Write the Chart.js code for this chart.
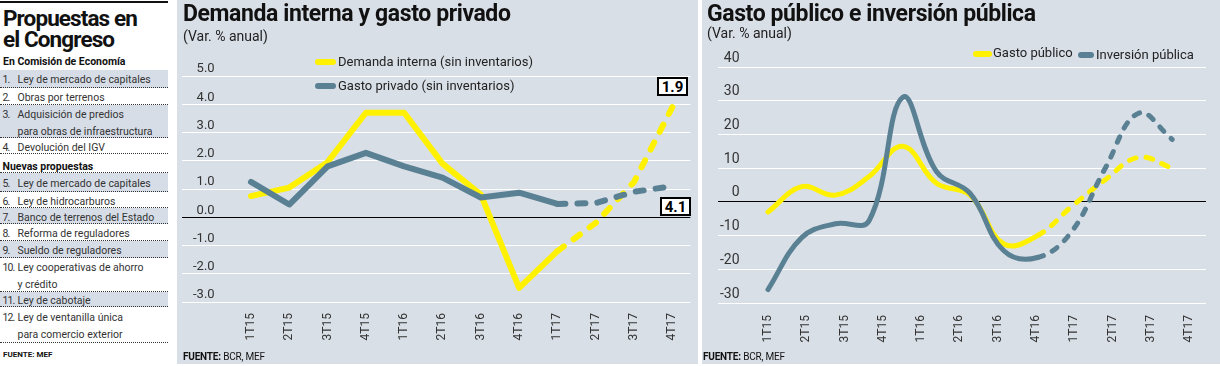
<!DOCTYPE html>
<html><head><meta charset="utf-8">
<script src="https://cdn.jsdelivr.net/npm/chart.js@4.4.1/dist/chart.umd.min.js"></script>
<style>
html,body{margin:0;padding:0;background:#fff;width:1220px;height:366px;overflow:hidden;font-family:Roboto,"Open Sans",sans-serif;color:#222;}
.panel{position:absolute;top:0;height:364px;background:#d9dfe7;}
#mid{left:177px;width:521px;}
#rgt{left:702px;width:518px;}
canvas{position:absolute;left:0;top:0;}
.ttl{position:absolute;font-weight:700;font-size:23px;line-height:26px;letter-spacing:-0.4px;color:#111;white-space:nowrap;}
.sub{position:absolute;font-size:14px;line-height:18px;color:#222;white-space:nowrap;}
.leg{position:absolute;font-size:13px;line-height:16px;color:#222;white-space:nowrap;}
.sw{position:absolute;height:6px;border-radius:3px;}
.src{position:absolute;font-size:10px;line-height:12px;letter-spacing:-0.2px;color:#111;white-space:nowrap;}
.box{position:absolute;background:#fff;border:2px solid #000;font-weight:700;font-size:15px;line-height:15px;text-align:center;color:#000;box-sizing:border-box;padding-top:1px;}
#left{position:absolute;left:0;top:0;width:168px;height:366px;}
.topline{position:absolute;left:0;top:1px;width:168px;height:2px;background:#111;}
.ltitle{position:absolute;left:3px;top:8px;font-weight:700;font-size:22.5px;line-height:21px;letter-spacing:-0.9px;color:#111;}
.hdr{position:absolute;left:3px;font-weight:700;font-size:10.5px;line-height:14px;color:#111;white-space:nowrap;}
.row{position:absolute;left:0;width:168px;border-bottom:1px dotted #333;box-sizing:border-box;font-size:10.5px;line-height:16.5px;color:#333;white-space:nowrap;}
.row.sh{background:#d6dde7;}
.row .n{position:absolute;left:2.5px;top:2px;letter-spacing:-0.9px;}
.row .t{position:absolute;left:17.5px;top:2px;}
</style></head>
<body>
<div id="left">
  <div class="topline"></div>
  <div class="ltitle">Propuestas en<br>el Congreso</div>
  <div class="hdr" style="top:55px">En Comisión de Economía</div>
  <div class="row sh" style="top:70px;height:18px"><span class="n">1.</span><span class="t">Ley de mercado de capitales</span></div>
  <div class="row" style="top:88px;height:17px"><span class="n">2.</span><span class="t">Obras por terrenos</span></div>
  <div class="row sh" style="top:105px;height:33px"><span class="n">3.</span><span class="t">Adquisición de predios<br>para obras de infraestructura</span></div>
  <div class="row" style="top:138px;height:16px"><span class="n">4.</span><span class="t">Devolución del IGV</span></div>
  <div class="row" style="top:154px;height:19px;"><span class="n" style="top:5px;font-weight:700;color:#111;letter-spacing:0">Nuevas propuestas</span></div>
  <div class="row sh" style="top:173px;height:19px"><span class="n" style="top:3px">5.</span><span class="t" style="top:3px">Ley de mercado de capitales</span></div>
  <div class="row" style="top:192px;height:16px"><span class="n">6.</span><span class="t">Ley de hidrocarburos</span></div>
  <div class="row sh" style="top:208px;height:16px"><span class="n">7.</span><span class="t">Banco de terrenos del Estado</span></div>
  <div class="row" style="top:224px;height:17px"><span class="n">8.</span><span class="t">Reforma de reguladores</span></div>
  <div class="row sh" style="top:241px;height:17px"><span class="n">9.</span><span class="t">Sueldo de reguladores</span></div>
  <div class="row" style="top:258px;height:34px"><span class="n">10.</span><span class="t">Ley cooperativas de ahorro<br>y crédito</span></div>
  <div class="row sh" style="top:292px;height:15px"><span class="n" style="top:1px">11.</span><span class="t" style="top:1px">Ley de cabotaje</span></div>
  <div class="row" style="top:307px;height:36px"><span class="n" style="top:3px">12.</span><span class="t" style="top:3px">Ley de ventanilla única<br>para comercio exterior</span></div>
  <div class="hdr" style="top:348px;font-size:8px;">FUENTE: MEF</div>
</div>

<div id="mid" class="panel">
  <canvas id="c1" width="521" height="364"></canvas>
  <div class="ttl" style="left:6px;top:1px">Demanda interna y gasto privado</div>
  <div class="sub" style="left:6px;top:27px">(Var. % anual)</div>
  <div class="sw" style="left:138px;top:59px;width:21px;background:#fff100"></div>
  <div class="leg" style="left:161px;top:54px">Demanda interna (sin inventarios)</div>
  <div class="sw" style="left:138px;top:83px;width:21px;background:#5a8094"></div>
  <div class="leg" style="left:161px;top:78px">Gasto privado (sin inventarios)</div>
  <div class="box" style="left:480px;top:77px;width:31px;height:19px">1.9</div>
  <div class="box" style="left:483px;top:197px;width:31px;height:19px">4.1</div>
  <div class="src" style="left:6px;top:351px"><b>FUENTE:</b> BCR, MEF</div>
</div>

<div id="rgt" class="panel">
  <canvas id="c2" width="518" height="364"></canvas>
  <div class="ttl" style="left:5px;top:1px">Gasto público e inversión pública</div>
  <div class="sub" style="left:5px;top:24px">(Var. % anual)</div>
  <div class="sw" style="left:271px;top:51px;width:19px;background:#fff100"></div>
  <div class="leg" style="left:291px;top:45px">Gasto público</div>
  <div class="sw" style="left:376px;top:52px;width:16px;background:#5a8094"></div>
  <div class="leg" style="left:394px;top:47px">Inversión pública</div>
  <div class="src" style="left:1px;top:351px"><b>FUENTE:</b> BCR, MEF</div>
</div>

<script>
// ---- data ----
const trimestres = ["1T15","2T15","3T15","4T15","1T16","2T16","3T16","4T16","1T17","2T17","3T17","4T17"];
const demandaInterna = [0.75, 1.05, 1.95, 3.7, 3.7, 1.9, 0.8, -2.5, -1.2, -0.2, 1.25, 3.9];
const gastoPrivado   = [1.25, 0.45, 1.8, 2.28, 1.8, 1.4, 0.7, 0.87, 0.47, 0.5, 0.9, 1.1];
const gastoPublico     = [-3, 4.5, 2, 7.5, 16.5, 5.5, 2, -12.5, -10, -1.5, 6.5, 13.2, 10];
const inversionPublica = [-26, -10.6, -6.5, -5.6, 31, 9, 2.5, -14.5, -16.5, -9, 9.8, 26.3, 18.5];
const ticksMid = [-3, -2, -1, 0, 1, 2, 3, 4, 5];
const ticksRgt = [-30, -20, -10, 0, 10, 20, 30, 40];

const YEL = '#fff100', GRY = '#5a8094', TXT = '#333';
const FONT = 'Roboto, "Open Sans", sans-serif';
const pts = arr => arr.map((v, i) => ({x: i, y: v}));
const dashFrom = (k, d) => ({borderDash: c => c.p0DataIndex >= k ? d : undefined});

function xLabelAxis(min, max, h, pad) {
  return {
    type: 'linear', min, max,
    grid: {display: false, drawTicks: false}, border: {display: false},
    afterBuildTicks: s => { s.ticks = trimestres.map((_, i) => ({value: i})); },
    afterFit: s => { s.height = h; },
    ticks: {autoSkip: false, minRotation: 90, maxRotation: 90, padding: pad,
      font: {family: FONT, size: 12}, color: TXT, callback: v => trimestres[v]}
  };
}
function yAxis(min, max, list, fmt, pad, off, size) {
  return {
    min, max,
    afterBuildTicks: s => { s.ticks = list.map(v => ({value: v})); },
    afterFit: s => { s.width = 0; },
    grid: {color: c => c.tick && c.tick.value === 0 ? '#000' : '#fff', lineWidth: 1, drawTicks: false},
    border: {display: false},
    ticks: {mirror: true, crossAlign: 'far', padding: pad, labelOffset: off,
      font: {family: FONT, size}, color: TXT, callback: fmt}
  };
}
const common = {
  responsive: false, animation: false, devicePixelRatio: 1,
  plugins: {legend: {display: false}, tooltip: {enabled: false}},
  elements: {point: {radius: 0}, line: {borderCapStyle: 'round', borderJoinStyle: 'round'}}
};

new Chart(document.getElementById('c1'), {
  type: 'line',
  data: {datasets: [
    {label: 'Gasto privado (sin inventarios)', data: pts(gastoPrivado), borderColor: GRY, borderWidth: 6, tension: 0, order: 0, segment: dashFrom(8, [8, 12])},
    {label: 'Demanda interna (sin inventarios)', data: pts(demandaInterna), borderColor: YEL, borderWidth: 6, tension: 0, order: 1, segment: dashFrom(8, [8, 12])}
  ]},
  options: Object.assign({}, common, {
    layout: {padding: {left: 5, right: 7, top: 76, bottom: 0}},
    scales: {
      x: xLabelAxis(-1.8, 11.47, 62, 11),
      y: yAxis(-3, 5, ticksMid, v => v.toFixed(1), 11, -7, 13)
    }
  })
});

new Chart(document.getElementById('c2'), {
  type: 'line',
  data: {datasets: [
    {label: 'Inversión pública', data: pts(inversionPublica), xAxisID: 'xd', borderColor: GRY, borderWidth: 5, tension: 0.4, order: 0, segment: dashFrom(8, [6, 10])},
    {label: 'Gasto público', data: pts(gastoPublico), xAxisID: 'xd', borderColor: YEL, borderWidth: 5, tension: 0.4, order: 1, segment: dashFrom(8, [7, 10])}
  ]},
  options: Object.assign({}, common, {
    layout: {padding: {left: 16, right: 14, top: 67, bottom: 0}},
    scales: {
      x: xLabelAxis(-1.305, 11.44, 61, 12),
      xd: {type: 'linear', display: false, min: -1.484, max: 13.0},
      y: yAxis(-30, 40, ticksRgt, v => String(v), 2, -9, 14)
    }
  })
});
</script>
</body></html>
